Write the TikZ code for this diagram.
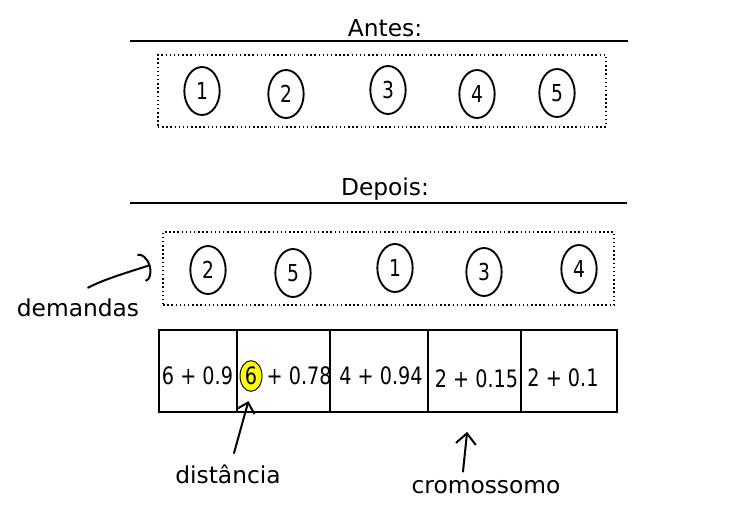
\documentclass[tikz,border=0pt]{standalone}
\usepackage{fontspec}
\setmainfont{DejaVu Sans}
\newfontfamily\condfont[FakeStretch=0.8]{DejaVu Sans}
\usepackage{xcolor}
\usetikzlibrary{shapes.geometric, arrows.meta, positioning}
\definecolor{hlyellow}{HTML}{FFFF00}

\tikzset{
  heading/.style={font=\fontsize{17.5}{21}\selectfont},
  demand/.style={draw, ellipse, line width=1.4pt, minimum width=26.5pt, minimum height=36pt, inner sep=0pt, font=\condfont\fontsize{17.5}{20}\selectfont},
  dotbox/.style={draw, dotted, line width=1.1pt},
  cell/.style={draw, line width=0.9pt, minimum height=61.5pt, inner sep=0pt, outer sep=0pt},
  celltext/.style={font=\condfont\fontsize{18}{21}\selectfont, inner sep=0pt},
  hl/.style={draw, ellipse, fill=hlyellow, line width=0.7pt, minimum width=16.5pt, minimum height=23pt, inner sep=0pt, font=\condfont\fontsize{18}{21}\selectfont},
  hand/.style={line width=1.5pt, line cap=round},
}

\begin{document}
\begin{tikzpicture}[x=0.75pt, y=-0.75pt]
    \useasboundingbox (0,0) rectangle (751,511);

    % antes
    \node[heading] (antes) at (385,28.5) {Antes:};
    \draw[line width=0.8pt] (130,41) -- (628,41);
    \node[dotbox, minimum width=336pt, minimum height=54pt] (boxa) at (382,91) {};
    \foreach \n/\x/\y in {1/202/91, 2/286/94, 3/388/90, 4/477/94, 5/557/93}
        \node[demand] (a\n) at (\x,\y) {\n};

    % depois
    \node[heading] (depois) at (385,189) {Depois:};
    \draw[line width=0.8pt] (130,203) -- (627,203);
    \node[dotbox, minimum width=338pt, minimum height=55pt] (boxd) at (388.5,268.5) {};
    \foreach \n/\x/\y in {2/208/270, 5/293/273, 1/395/268, 3/484/272, 4/579/269}
        \node[demand] (d\n) at (\x,\y) {\n};

    % cromossomo
    \node[cell, minimum width=58.5pt] (c1) at (198,371) {};
    \node[cell, minimum width=69.75pt, right=0pt of c1] (c2) {};
    \node[cell, minimum width=73.5pt, right=0pt of c2] (c3) {};
    \node[cell, minimum width=69.75pt, right=0pt of c3] (c4) {};
    \node[cell, minimum width=72pt, right=0pt of c4] (c5) {};

    \node[celltext] (t1) at (197.5,376) {6 + 0.9};
    \node[hl] (six) at (251,376) {6};
    \node[celltext, right=3pt of six] (t2) {+ 0.78};
    \node[celltext] (t3) at (381,376) {4 + 0.94};
    \node[celltext] (t4) at (476.5,379) {2 + 0.15};
    \node[celltext] (t5) at (563,378) {2 + 0.1};

    % rotulos
    \node[heading] (demandas) at (78,308) {demandas};
    \node[heading] (distancia) at (228,474) {distância};
    \node[heading] (cromossomo) at (486,487) {cromossomo};

    \draw[hand, -{Arc Barb[length=7pt, width=22pt]}]
        ([xshift=7.5pt, yshift=4.9pt]demandas.north) .. controls +(15,-8) and +(-25,8) .. ([xshift=-9pt, yshift=2.6pt]boxd.west);
    \draw[hand, -{Straight Barb[length=7pt, width=14pt]}, shorten >=7.3pt]
        ([xshift=4.5pt, yshift=5pt]distancia.north) -- (six.south);
    \draw[hand, -{Straight Barb[length=8pt, width=15pt]}, shorten >=15pt]
        ([xshift=-17.25pt, yshift=3pt]cromossomo.north) -- ([xshift=-4pt]c4.south);
\end{tikzpicture}
\end{document}
